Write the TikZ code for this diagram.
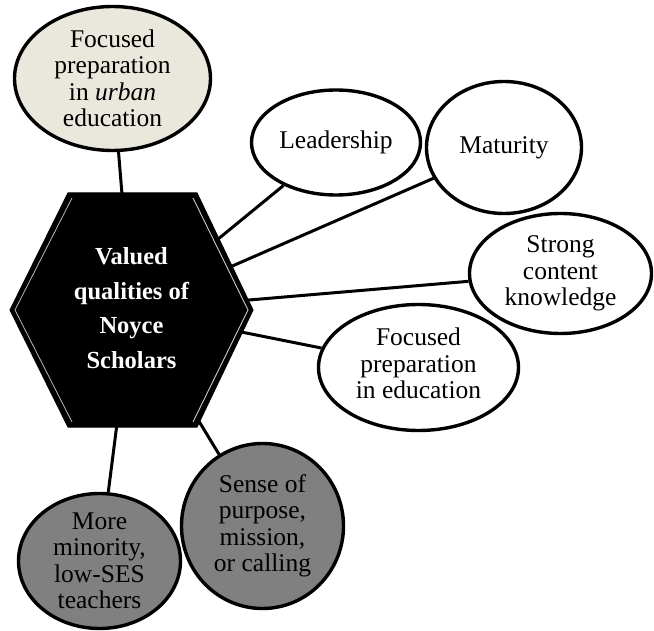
\documentclass[tikz,border=0pt]{standalone}
\usepackage{fontspec}
\setmainfont{Liberation Serif}
\usetikzlibrary{shapes.geometric,backgrounds}
\definecolor{bubblegray}{RGB}{128,128,128}
\definecolor{parchment}{RGB}{234,231,221}
\begin{document}
\begin{tikzpicture}[x=1pt,y=-1pt,
  bubble/.style={ellipse, draw=black, line width=3.4pt, fill=white, inner sep=0pt},
  lbl/.style={align=center, font=\fontsize{25.5}{26.5}\selectfont, inner sep=0pt},
  corelbl/.style={align=center, text=white, inner sep=0pt,
    font=\bfseries\fontsize{24.5}{34.5}\selectfont},
  link/.style={line width=3pt, draw=black}]
\useasboundingbox (0,0) rectangle (654,631);

% central hexagon with its inner bevel lines
\draw[fill=black, line width=1pt]
  (68,193) -- (197,193) -- (253,310) -- (197,427) -- (68,427) -- (10,310) -- cycle;
\draw[gray!55, line width=0.8pt] (72,198) -- (15,310) -- (72,422);
\draw[white!80!black, line width=0.9pt] (193,198) -- (248,310) -- (193,422);
\coordinate (hub) at (131.5,310);
\node[corelbl] (core) at (131.5,308) {Valued\\qualities of\\Noyce\\Scholars};

% surrounding qualities
\node[bubble, fill=parchment, minimum width=196pt, minimum height=144pt] (urban) at (112.5,78.5) {};
\node[lbl] (urbant) at (urban.center) {Focused\\preparation\\in \textit{urban}\\education};

\node[bubble, minimum width=169pt, minimum height=105pt] (lead) at (336,142.5) {};
\node[lbl] (leadt) at (lead.center) {Leadership};

\node[bubble, minimum width=155pt, minimum height=132pt] (mat) at (504,147.5) {};
\node[lbl] (matt) at (mat.center) {Maturity};

\node[bubble, minimum width=182pt, minimum height=120pt] (strong) at (560.5,273.5) {};
\node[lbl] (strongt) at (strong.center) {Strong\\content\\knowledge};

\node[bubble, minimum width=200pt, minimum height=126pt] (edu) at (418.5,367.5) {};
\node[lbl] (edut) at ([yshift=4pt]edu.center) {Focused\\preparation\\in education};

\node[bubble, fill=bubblegray, minimum width=162pt, minimum height=165pt] (sense) at (262.5,526) {};
\node[lbl] (senset) at (sense.center) {Sense of\\purpose,\\mission,\\or calling};

\node[bubble, fill=bubblegray, minimum width=162pt, minimum height=135pt] (minor) at (99.5,561) {};
\node[lbl] (minort) at (minor.center) {More\\minority,\\low-SES\\teachers};

% spokes from the hexagon to every quality
\begin{scope}[on background layer]
  \foreach \q in {urban, lead, mat, strong, edu, sense, minor}
    \draw[link] (hub) -- (\q);
\end{scope}
\end{tikzpicture}
\end{document}
